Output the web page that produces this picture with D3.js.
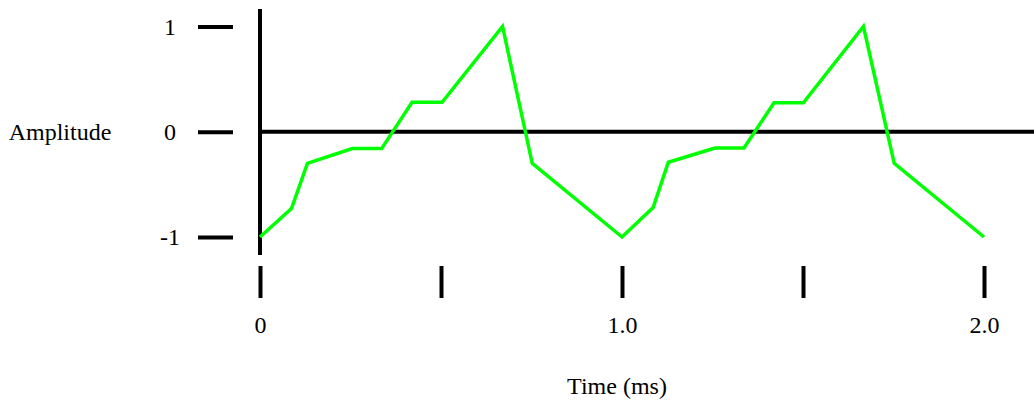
<!DOCTYPE html>
<html>
<head>
<meta charset="utf-8">
<script src="https://cdn.jsdelivr.net/npm/d3@7"></script>
<style>
  html, body { margin: 0; padding: 0; background: #fff; }
  svg { display: block; }
  text { font-family: "Liberation Serif", "Times New Roman", serif; fill: #000; }
</style>
</head>
<body>
<svg id="chart" width="1034" height="401"></svg>
<script>
// Data
const times = [0, 0.087, 0.131, 0.255, 0.336, 0.42, 0.503, 0.67, 0.752, 1.0,
               1.086, 1.128, 1.257, 1.337, 1.42, 1.501, 1.667, 1.752, 2.0];
const amplitudes = [-1.0, -0.73, -0.30, -0.16, -0.16, 0.28, 0.28, 1.0, -0.30, -1.0,
                    -0.72, -0.29, -0.155, -0.155, 0.275, 0.275, 1.0, -0.30, -1.0];
const xTicks = [0, 0.5, 1.0, 1.5, 2.0];
const xTickLabels = ["0", "", "1.0", "", "2.0"];
const yTicks = [-1, 0, 1];
const yTickLabels = ["-1", "0", "1"];

const FONT = "24px";
const svg = d3.select("#chart");
const x = d3.scaleLinear().domain([0, 2]).range([260, 984]);
const y = d3.scaleLinear().domain([-1, 1]).range([237, 26.5]);

// Vertical axis line
svg.append("line")
  .attr("x1", x(0)).attr("x2", x(0))
  .attr("y1", 9).attr("y2", 255)
  .attr("stroke", "#000").attr("stroke-width", 4);

// Zero line
svg.append("line")
  .attr("x1", x(0)).attr("x2", 1034)
  .attr("y1", y(0)).attr("y2", y(0))
  .attr("stroke", "#000").attr("stroke-width", 4);

// Y axis ticks
const yAxis = d3.axisLeft(y)
  .tickValues(yTicks)
  .tickSize(35)
  .tickPadding(0)
  .tickFormat((d, i) => yTickLabels[i]);
const gy = svg.append("g").attr("transform", "translate(233,0)").call(yAxis);
gy.select(".domain").remove();
gy.selectAll(".tick line").attr("stroke", "#000").attr("stroke-width", 4);
gy.selectAll(".tick text")
  .attr("x", 170 - 233)
  .attr("text-anchor", "middle")
  .style("font-family", '"Liberation Serif", serif')
  .style("font-size", FONT)
  .attr("fill", "#000");

// X axis ticks
const xAxis = d3.axisBottom(x)
  .tickValues(xTicks)
  .tickSize(32)
  .tickPadding(18)
  .tickFormat((d, i) => xTickLabels[i]);
const gx = svg.append("g").attr("transform", "translate(0,266)").call(xAxis);
gx.select(".domain").remove();
gx.selectAll(".tick line").attr("stroke", "#000").attr("stroke-width", 4);
gx.selectAll(".tick text")
  .style("font-family", '"Liberation Serif", serif')
  .style("font-size", FONT)
  .attr("fill", "#000");

// Axis titles
svg.append("text")
  .attr("x", 60).attr("y", 132)
  .attr("dy", "0.35em")
  .attr("text-anchor", "middle")
  .style("font-size", FONT)
  .text("Amplitude");

svg.append("text")
  .attr("x", 617).attr("y", 386)
  .attr("dy", "0.35em")
  .attr("text-anchor", "middle")
  .style("font-size", FONT)
  .text("Time (ms)");

// Waveform
const line = d3.line()
  .x((d, i) => x(times[i]))
  .y(d => y(d));
svg.append("path")
  .datum(amplitudes)
  .attr("d", line)
  .attr("fill", "none")
  .attr("stroke", "#00ff00")
  .attr("stroke-width", 3.5)
  .attr("stroke-linejoin", "miter");
</script>
</body>
</html>
